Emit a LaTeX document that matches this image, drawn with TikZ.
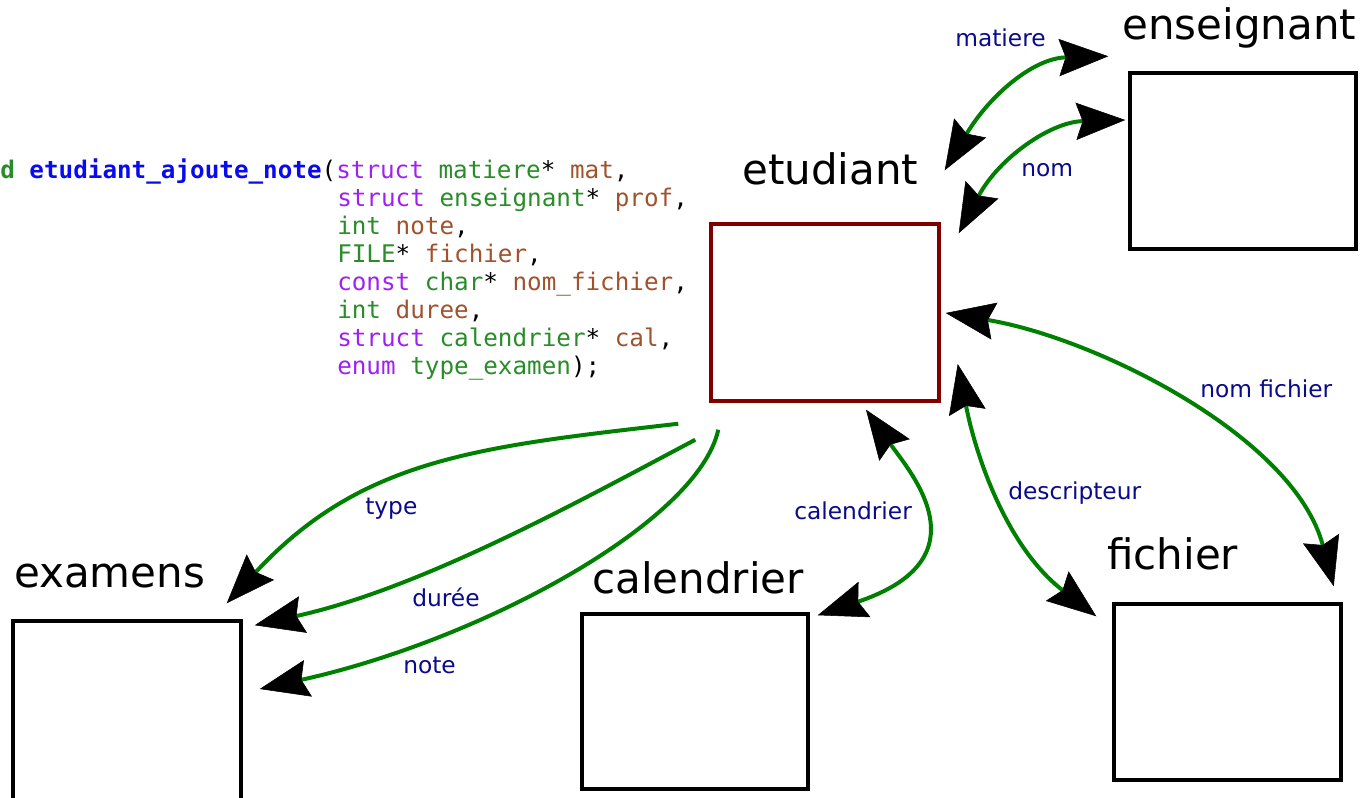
\documentclass[tikz,border=0pt]{standalone}
\usepackage{fontspec}
\setmainfont{DejaVu Sans}
\newfontfamily\codefont{DejaVu Sans Mono}
\usetikzlibrary{arrows.meta}
\definecolor{linkgreen}{RGB}{0,128,0}
\definecolor{lblblue}{RGB}{10,10,140}
\definecolor{studred}{RGB}{128,0,0}
\definecolor{cgreen}{RGB}{40,140,40}
\definecolor{cpurple}{RGB}{160,32,240}
\definecolor{cbrown}{RGB}{160,82,45}
\definecolor{cblue}{RGB}{10,10,240}
\tikzset{
  bigtip/.tip={Stealth[length=37pt,width=28pt,inset=5pt,color=black,line width=0.4pt]},
  link/.style={draw=linkgreen,line width=3pt},
  one/.style={link,-bigtip},
  two/.style={link,bigtip-bigtip},
  entity/.style={draw=black,line width=2.6pt,inner sep=0pt},
  title/.style={anchor=base west,inner sep=0pt,font=\fontsize{31.5}{36}\selectfont},
  elabel/.style={anchor=base west,inner sep=0pt,text=lblblue,font=\fontsize{17.5}{20}\selectfont},
  code/.style={anchor=base west,inner sep=0pt,font=\codefont\fontsize{18.2}{21}\selectfont},
}
\newcommand{\kw}[1]{{\color{cpurple}#1}}
\newcommand{\ty}[1]{{\color{cgreen}#1}}
\newcommand{\vr}[1]{{\color{cbrown}#1}}
\begin{document}
\begin{tikzpicture}[x=0.75pt,y=-0.75pt]
\useasboundingbox (0,0) rectangle (1368,798);
% entity boxes
\node[entity,draw=studred,minimum width=171pt,minimum height=132.75pt] (stud) at (825,312.5) {};
\node[entity,minimum width=169.5pt,minimum height=132pt] (ens) at (1243,161) {};
\node[entity,minimum width=171pt,minimum height=134.25pt] (exam) at (127,710.5) {};
\node[entity,minimum width=169.5pt,minimum height=131.25pt] (cal) at (695,701.5) {};
\node[entity,minimum width=170.25pt,minimum height=132pt] (fich) at (1227.5,692) {};
% titles
\node[title] (tens) at (1122,40) {enseignant};
\node[title] (tstud) at (742,185) {etudiant};
\node[title] (texam) at (14,587) {examens};
\node[title] (tcal) at (592,593) {calendrier};
\node[title] (tfich) at (1107,570) {fichier};
% code
\node[code] (c1) at (0,179) {{\bfseries\ty{d}} {\bfseries\color{cblue}etudiant\_ajoute\_note}(\kw{struct} \ty{matiere}* \vr{mat},};
\node[code] (c2) at (337,207) {\kw{struct} \ty{enseignant}* \vr{prof},};
\node[code] (c3) at (337,235) {\ty{int} \vr{note},};
\node[code] (c4) at (337,263) {\ty{FILE}* \vr{fichier},};
\node[code] (c5) at (337,291) {\kw{const} \ty{char}* \vr{nom\_fichier},};
\node[code] (c6) at (337,319) {\ty{int} \vr{duree},};
\node[code] (c7) at (337,347) {\kw{struct} \ty{calendrier}* \vr{cal},};
\node[code] (c8) at (337,375) {\kw{enum} \ty{type\_examen});};
% connectors
\draw[two] ([shift={(-20,-15)}]ens.north west) .. controls +(-75,2) and +(45,-75) .. ([shift={(4,-52)}]stud.north east);
\draw[two] ([shift={(-3,-41)}]ens.west) .. controls +(-75,2) and +(40,-75) .. ([shift={(18,11)}]stud.north east);
\draw[two] ([shift={(5,0.5)}]stud.east) .. controls +(150,25) and +(-40,-150) .. ([shift={(-9,-16)}]fich.north east);
\draw[two] ([shift={(17,51.5)}]stud.east) .. controls +(19,96) and +(-88,-68) .. ([shift={(-16,14)}]fich.north west);
\draw[two] ([shift={(41,7)}]stud.south) .. controls +(44,62) and +(169,-57) .. ([shift={(8,3)}]cal.north east);
\draw[one] ([shift={(-31,21)}]stud.south west) .. controls +(-200,23) and +(135,-145) .. ([shift={(-16,-16)}]exam.north east);
\draw[one] ([shift={(-14,37)}]stud.south west) .. controls +(-117,62) and +(167,-37) .. ([shift={(12,6)}]exam.north east);
\draw[one] ([shift={(9,27)}]stud.south west) .. controls +(-20,92) and +(222,-49) .. ([shift={(17,-21.5)}]exam.east);
% connector labels
\node[elabel] (lmat) at (955,47) {matiere};
\node[elabel] (lnom) at (1021,177) {nom};
\node[elabel] (lnf) at (1200,398) {nom fichier};
\node[elabel] (ldesc) at (1008,500) {descripteur};
\node[elabel] (lcal) at (794,519) {calendrier};
\node[elabel] (ltype) at (365,514) {type};
\node[elabel] (ldur) at (412,606) {durée};
\node[elabel] (lnote) at (403,673) {note};
\end{tikzpicture}
\end{document}
